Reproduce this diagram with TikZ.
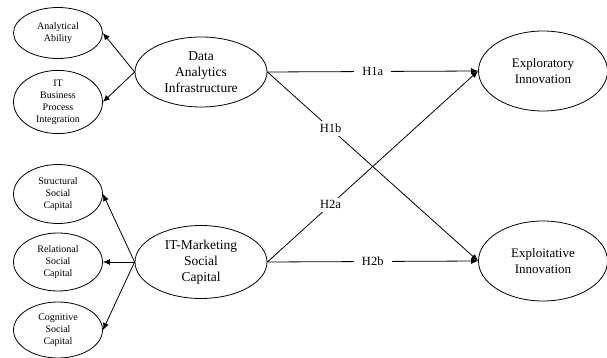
\documentclass[tikz,border=0pt]{standalone}
\usepackage{fontspec}
\setmainfont{Liberation Serif}
\usetikzlibrary{shapes.geometric,arrows.meta}

\begin{document}
\begin{tikzpicture}[x=1pt,y=-1pt,line width=0.8pt,
  construct/.style={draw,ellipse,inner sep=0pt,align=center,font=\fontsize{13.5}{16}\selectfont},
  item/.style={draw,ellipse,inner sep=0pt,align=center,minimum width=89pt,font=\fontsize{10}{12}\selectfont},
  hyp/.style={fill=white,inner xsep=8pt,inner ysep=3pt,font=\fontsize{12.5}{14}\selectfont},
  path/.style={-{Latex[length=7pt,width=6pt]}}]
\useasboundingbox (0,0) rectangle (607,358);
\node[construct,minimum width=132pt,minimum height=70pt] (dai) at (201,72) {Data\\Analytics\\Infrastructure};
\node[construct,minimum width=132pt,minimum height=73pt] (itm) at (201,262) {IT-Marketing\\Social\\Capital};
\node[construct,minimum width=129pt,minimum height=80pt,font=\fontsize{13}{16.5}\selectfont] (expl) at (543,71) {Exploratory\\Innovation};
\node[construct,minimum width=129pt,minimum height=80pt,font=\fontsize{13}{16.5}\selectfont] (expt) at (543,261) {Exploitative\\Innovation};
\node[item,minimum height=51pt] (aa) at (58,33) {Analytical\\Ability};
\node[item,minimum height=57pt] (bpi) at (58,102) {IT\\Business\\Process\\Integration};
\node[item,minimum height=59pt] (ssc) at (58,194) {Structural\\Social\\Capital};
\node[item,minimum height=58pt] (rsc) at (58,262) {Relational\\Social\\Capital};
\node[item,minimum height=56pt] (csc) at (58,330) {Cognitive\\Social\\Capital};
% measurement arrows
\draw[path] (dai.west)--(aa.east);
\draw[path] (dai.west)--(bpi.east);
\draw[path] (itm.west)--(ssc.east);
\draw[path] (itm.west)--(rsc.east);
\draw[path] (itm.west)--(csc.east);
% hypotheses
\draw[path] (dai.east)--node[hyp] (h1a) {H1a} (expl.west);
\draw[path] (dai.east)--node[hyp,pos=0.3] (h1b) {H1b} (expt.west);
\draw[path] (itm.east)--node[hyp,pos=0.3] (h2a) {H2a} (expl.west);
\draw[path] (itm.east)--node[hyp] (h2b) {H2b} (expt.west);
\end{tikzpicture}
\end{document}
